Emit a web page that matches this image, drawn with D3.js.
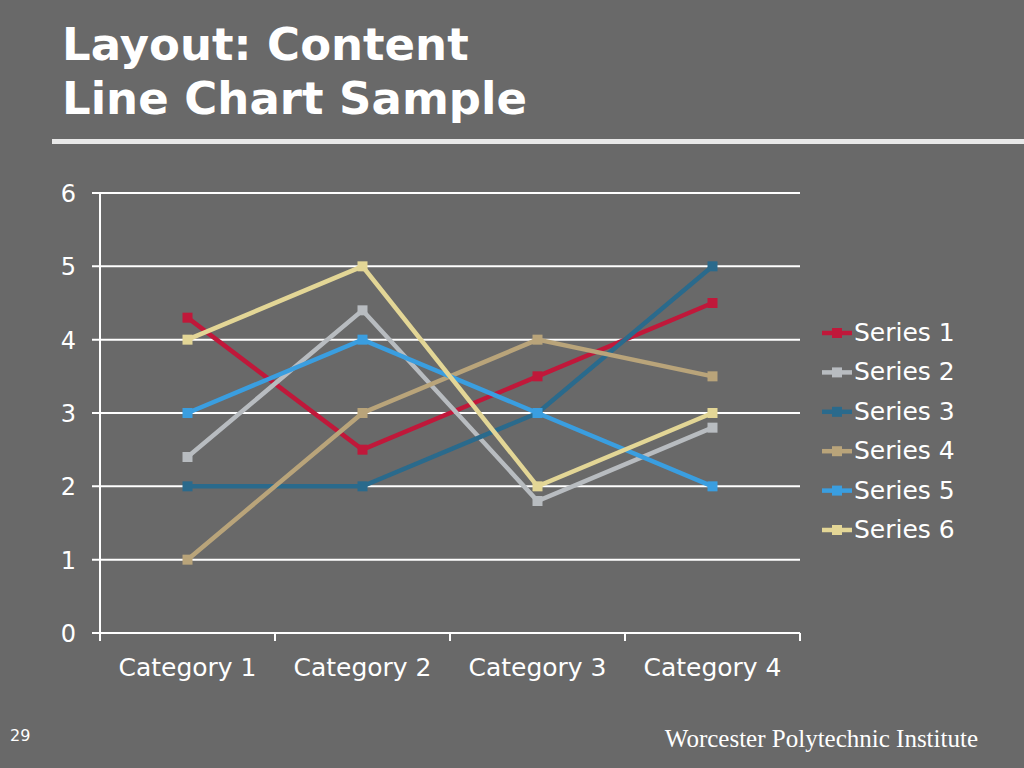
<!DOCTYPE html>
<html><head><meta charset="utf-8">
<script src="https://cdn.jsdelivr.net/npm/d3@7"></script>
<style>body{margin:0;background:#696969}</style>
</head><body>
<script>
const categories = ["Category 1", "Category 2", "Category 3", "Category 4"];
const seriesNames = ["Series 1", "Series 2", "Series 3", "Series 4", "Series 5", "Series 6"];
const seriesValues = [
  [4.3, 2.5, 3.5, 4.5],
  [2.4, 4.4, 1.8, 2.8],
  [2, 2, 3, 5],
  [1, 3, 4, 3.5],
  [3, 4, 3, 2],
  [4, 5, 2, 3]
];
const colors = ["#c0183a", "#b8bcc0", "#2a6a8c", "#b9a47a", "#3a9ee0", "#e3d696"];
const yTicks = [0, 1, 2, 3, 4, 5, 6];

const svg = d3.select("body").append("svg").attr("width", 1024).attr("height", 768)
  .style("display", "block").style("background", "#696969");
const font = "'DejaVu Sans', Verdana, sans-serif";

svg.append("text").attr("x", 62).attr("y", 60).attr("fill", "#fff")
  .attr("font-family", font).attr("font-weight", "bold").attr("font-size", 45).text("Layout: Content");
svg.append("text").attr("x", 62).attr("y", 114).attr("fill", "#fff")
  .attr("font-family", font).attr("font-weight", "bold").attr("font-size", 45).text("Line Chart Sample");
svg.append("rect").attr("x", 52).attr("y", 139).attr("width", 972).attr("height", 5).attr("fill", "#e8e8e8");

const x = d3.scaleBand().domain(categories).range([100, 800]);
const y = d3.scaleLinear().domain([0, 6]).range([633, 193]);

const g = svg.append("g");
g.selectAll(".grid").data(yTicks).join("line")
  .attr("x1", 92).attr("x2", 800).attr("y1", d => y(d)).attr("y2", d => y(d))
  .attr("stroke", "#fff").attr("stroke-width", 2);
g.append("line").attr("x1", 100).attr("x2", 100).attr("y1", y(6)).attr("y2", y(0))
  .attr("stroke", "#fff").attr("stroke-width", 2);
g.selectAll(".ylab").data(yTicks).join("text")
  .attr("x", 76).attr("y", d => y(d) + 9).attr("text-anchor", "end")
  .attr("fill", "#fff").attr("font-family", font).attr("font-size", 24).text(d => d);
const xt = [...categories.map(c => x(c)), 800];
g.selectAll(".xt").data(xt).join("line")
  .attr("x1", d => d).attr("x2", d => d).attr("y1", 633).attr("y2", 641)
  .attr("stroke", "#fff").attr("stroke-width", 2);
g.selectAll(".xlab").data(categories).join("text")
  .attr("x", d => x(d) + x.bandwidth() / 2).attr("y", 676).attr("text-anchor", "middle")
  .attr("fill", "#fff").attr("font-family", font).attr("font-size", 25).text(d => d);

const line = d3.line().x((d, i) => x(categories[i]) + x.bandwidth() / 2).y(d => y(d));
seriesValues.forEach((vals, s) => {
  g.append("path").datum(vals).attr("d", line).attr("fill", "none")
    .attr("stroke", colors[s]).attr("stroke-width", 4.5);
  g.selectAll(".m" + s).data(vals).join("rect")
    .attr("x", (d, i) => x(categories[i]) + x.bandwidth() / 2 - 5).attr("y", d => y(d) - 5)
    .attr("width", 10).attr("height", 10).attr("fill", colors[s]);
});

const leg = svg.append("g");
seriesNames.forEach((n, i) => {
  const ly = 333 + i * 39.4;
  leg.append("line").attr("x1", 822).attr("x2", 852).attr("y1", ly).attr("y2", ly)
    .attr("stroke", colors[i]).attr("stroke-width", 4.5);
  leg.append("rect").attr("x", 832).attr("y", ly - 5).attr("width", 10).attr("height", 10).attr("fill", colors[i]);
  leg.append("text").attr("x", 854).attr("y", ly + 8).attr("fill", "#fff")
    .attr("font-family", font).attr("font-size", 25).text(n);
});

svg.append("text").attr("x", 10).attr("y", 741).attr("fill", "#fff")
  .attr("font-family", font).attr("font-size", 16).text("29");
svg.append("text").attr("x", 978).attr("y", 747).attr("text-anchor", "end").attr("fill", "#fff")
  .attr("font-family", "'Liberation Serif', 'Times New Roman', serif").attr("font-size", 25)
  .text("Worcester Polytechnic Institute");
</script>
</body></html>
